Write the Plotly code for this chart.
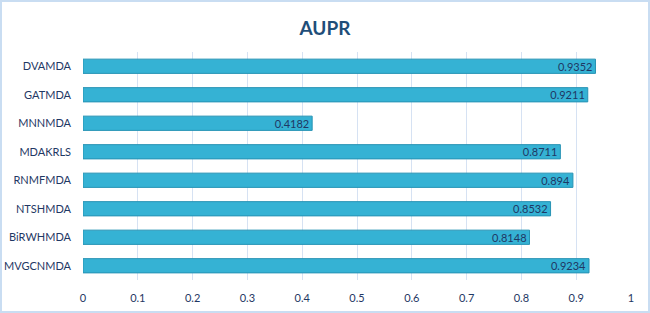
import plotly.graph_objects as go

methods = ["MVGCNMDA", "BiRWHMDA", "NTSHMDA", "RNMFMDA", "MDAKRLS", "MNNMDA", "GATMDA", "DVAMDA"]
aupr = [0.9234, 0.8148, 0.8532, 0.894, 0.8711, 0.4182, 0.9211, 0.9352]
labels = ["0.9234", "0.8148", "0.8532", "0.894", "0.8711", "0.4182", "0.9211", "0.9352"]
x_ticks = [0, 0.1, 0.2, 0.3, 0.4, 0.5, 0.6, 0.7, 0.8, 0.9, 1]
x_tick_text = ["0", "0.1", "0.2", "0.3", "0.4", "0.5", "0.6", "0.7", "0.8", "0.9", "1"]

L, R, T, B = 83, 19, 52, 33
W, H = 650, 313
pw, ph = W - L - R, H - T - B
FONT = "Lato"

fig = go.Figure()
fig.add_trace(go.Bar(
    y=methods, x=aupr, orientation="h",
    marker=dict(color="#35B2D4", line=dict(color="#2793B4", width=1)),
    width=0.5,
    text=labels, textposition="inside", insidetextanchor="end",
    constraintext="none",
    textfont=dict(color="#1F3864", size=11, family=FONT),
    cliponaxis=False,
))

fig.update_layout(
    width=W, height=H,
    margin=dict(l=L, r=R, t=T, b=B),
    paper_bgcolor="white", plot_bgcolor="white",
    title=dict(text="<b>AUPR</b>", x=0.5, xanchor="center", y=1 - 28 / H, yanchor="middle",
               font=dict(size=19, color="#1F4E79", family=FONT)),
    showlegend=False,
    xaxis=dict(range=[0, 1], tickvals=x_ticks, ticktext=x_tick_text, automargin=False,
               showgrid=True, gridcolor="#D6E2F3", gridwidth=1, zeroline=False,
               showline=False, tickfont=dict(size=11, color="#1F3864", family=FONT),
               ticks="", ticklabelstandoff=10),
    yaxis=dict(showgrid=False, zeroline=False, showline=False, ticks="", automargin=False,
               tickfont=dict(size=11, color="#1F3864", family=FONT),
               range=[-0.5, 7.5], ticklabelstandoff=11),
    shapes=[dict(type="rect", xref="paper", yref="paper",
                 x0=-(L - 1) / pw, x1=1 + (R - 1) / pw,
                 y0=-(B - 1) / ph, y1=1 + (T - 1) / ph,
                 line=dict(color="#C9DDF2", width=2), layer="below")],
)

fig.write_html("out.html", config={"displayModeBar": False},
               post_script="document.body.style.margin='0px';document.body.style.overflow='hidden';")
